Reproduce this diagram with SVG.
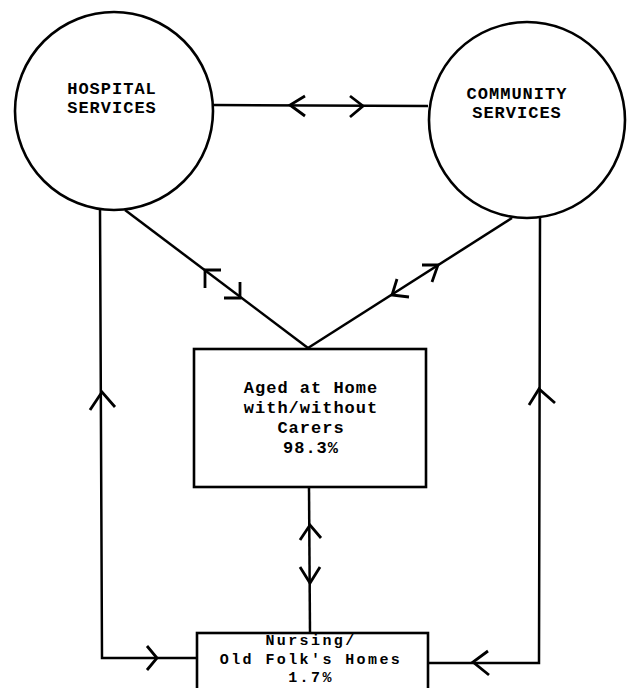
<svg xmlns="http://www.w3.org/2000/svg" width="627" height="688" viewBox="0 0 627 688">
<style>
.shape{fill:#fff;stroke:#000;stroke-width:2.6}
.line{fill:none;stroke:#000;stroke-width:2.5;stroke-linejoin:miter}
.chev{fill:none;stroke:#000;stroke-width:2.8;stroke-linecap:butt;stroke-linejoin:miter}
text{font-family:"Liberation Mono","Courier New",monospace;font-size:17px;font-weight:bold;fill:#000;text-anchor:middle;letter-spacing:1px}
text.small{font-size:15px;letter-spacing:2.4px}
</style>
<rect width="627" height="688" fill="#fff"/>
<g id="connectors">
<line class="line" x1="213" y1="105" x2="428" y2="106"/>
<path class="chev" d="M305,96 L290,105 L305,116"/>
<path class="chev" d="M350,96 L363,106 L350,117"/>
<line class="line" x1="125" y1="210" x2="308" y2="348"/>
<path class="chev" d="M205,288 L205,270 L221,270"/>
<path class="chev" d="M240,282 L240,298 L224,298"/>
<line class="line" x1="512" y1="218" x2="308" y2="348"/>
<path class="chev" d="M422,265 L438,265 L432,282"/>
<path class="chev" d="M409,297 L392,295 L397,279"/>
<polyline class="line" points="100,208 102,658 197,658"/>
<path class="chev" d="M90,410 L102,392 L115,407"/>
<path class="chev" d="M147,646 L157,658 L147,670"/>
<polyline class="line" points="540,218 539,663 428,663"/>
<path class="chev" d="M529,405 L539,389 L555,403"/>
<path class="chev" d="M488,651 L473,662 L489,675"/>
<line class="line" x1="309" y1="487" x2="310" y2="633"/>
<path class="chev" d="M300,540 L310,525 L321,538"/>
<path class="chev" d="M300,567 L310,583 L320,567"/>
</g>
<g id="hospital">
<circle class="shape" cx="114" cy="111" r="99"/>
<text x="112" y="94">HOSPITAL</text>
<text x="112" y="113">SERVICES</text>
</g>
<g id="community">
<circle class="shape" cx="527" cy="120" r="98"/>
<text x="517" y="99">COMMUNITY</text>
<text x="517" y="118">SERVICES</text>
</g>
<g id="aged">
<rect class="shape" x="194" y="349" width="232" height="138"/>
<text x="311" y="393">Aged at Home</text>
<text x="311" y="413">with/without</text>
<text x="311" y="433">Carers</text>
<text x="311" y="453">98.3%</text>
</g>
<g id="nursing">
<rect class="shape" x="197" y="633" width="231" height="70"/>
<text class="small" x="311" y="645">Nursing/</text>
<text class="small" x="311" y="664">Old Folk's Homes</text>
<text class="small" x="311" y="682">1.7%</text>
</g>
</svg>
